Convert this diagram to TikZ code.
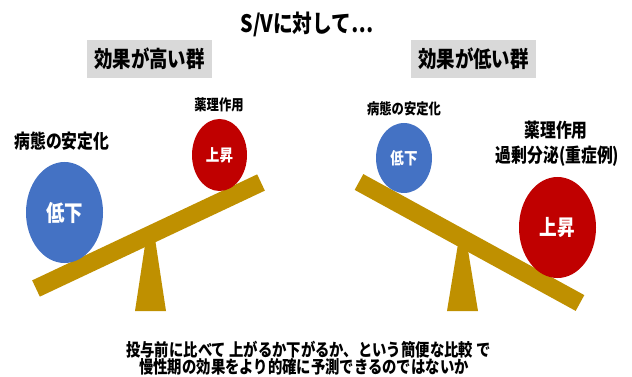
\documentclass[tikz,border=0pt]{standalone}
\usepackage{fontspec}
\setmainfont{Noto Sans CJK JP}
\usetikzlibrary{shapes.geometric}
\definecolor{gold}{HTML}{BF9000}
\definecolor{eblue}{HTML}{4472C4}
\definecolor{ered}{HTML}{C00000}
\definecolor{boxgray}{HTML}{D9D9D9}
\newcommand{\hsq}[1]{\scalebox{0.82}[1]{#1}}
\newcommand{\fsz}[1]{\fontsize{#1}{#1}\selectfont}
\begin{document}
\begin{tikzpicture}[x=1pt,y=-1pt,
  lbl/.style={inner sep=0pt, text=black},
  grpbox/.style={fill=boxgray, minimum width=125pt, minimum height=38pt, inner sep=0pt},
  ball/.style={ellipse, inner sep=0pt, text=white},
  beam/.style={draw=gold, line width=18pt, line cap=butt},
  foot/.style={fill=gold}]
\useasboundingbox (0,0) rectangle (632,377);

% title
\node[lbl] (title) at (307,24) {\hsq{\fsz{24}\bfseries S/Vに対して⋯}};
\node[grpbox] (hi) at (149.5,59) {\hsq{\fsz{22.5}\bfseries 効果が高い群}};
\node[grpbox] (lo) at (473.5,59) {\hsq{\fsz{22.5}\bfseries 効果が低い群}};

% left seesaw
\coordinate (lfa) at (147,232);
\coordinate (lfb) at (154,232);
\coordinate (lfc) at (166,311);
\coordinate (lfd) at (135,311);
\fill[foot] (lfa) -- (lfb) -- (lfc) -- (lfd) -- cycle;
\coordinate (lbl1) at (36,288.5);
\coordinate (lbr1) at (261,182.5);
\draw[beam] (lbl1) -- (lbr1);
\node[ball, fill=eblue, minimum width=77pt, minimum height=101pt] (lblue) at (64.5,212.5) {\hsq{\fsz{22.5}\bfseries 低下}};
\node[ball, fill=ered, minimum width=55pt, minimum height=72pt] (lred) at (219.5,155) {\hsq{\fsz{16.5}\bfseries 上昇}};
\node[lbl] (lstab) at (62,141.5) {\hsq{\fsz{19.3}\bfseries 病態の安定化}};
\node[lbl] (lpharm) at (219,105) {\hsq{\fsz{15}\bfseries 薬理作用}};

% right seesaw
\coordinate (rfa) at (459,238);
\coordinate (rfb) at (466,238);
\coordinate (rfc) at (478,311);
\coordinate (rfd) at (447,311);
\fill[foot] (rfa) -- (rfb) -- (rfc) -- (rfd) -- cycle;
\coordinate (rbl) at (359,182);
\coordinate (rbr) at (580,303);
\draw[beam] (rbl) -- (rbr);
\node[ball, fill=eblue, minimum width=56pt, minimum height=70pt] (rblue) at (404,158) {\hsq{\fsz{16.5}\bfseries 低下}};
\node[ball, fill=ered, minimum width=77pt, minimum height=101pt] (rred) at (557.5,227.5) {\hsq{\fsz{21.5}\bfseries 上昇}};
\node[lbl] (rstab) at (404,109) {\hsq{\fsz{15}\bfseries 病態の安定化}};
\node[lbl] (rpharm1) at (556,130) {\hsq{\fsz{19.3}\bfseries 薬理作用}};
\node[lbl] (rpharm2) at (557.5,156) {\hsq{\fsz{19.3}\bfseries 過剰分泌(重症例)}};

% bottom text
\node[lbl] (note1) at (308.5,350) {\hsq{\fsz{17.5}\bfseries 投与前に比べて 上がるか下がるか、という簡便な比較 で}};
\node[lbl] (note2) at (304,366.5) {\hsq{\fsz{17.5}\bfseries 慢性期の効果をより的確に予測できるのではないか}};
\end{tikzpicture}
\end{document}
